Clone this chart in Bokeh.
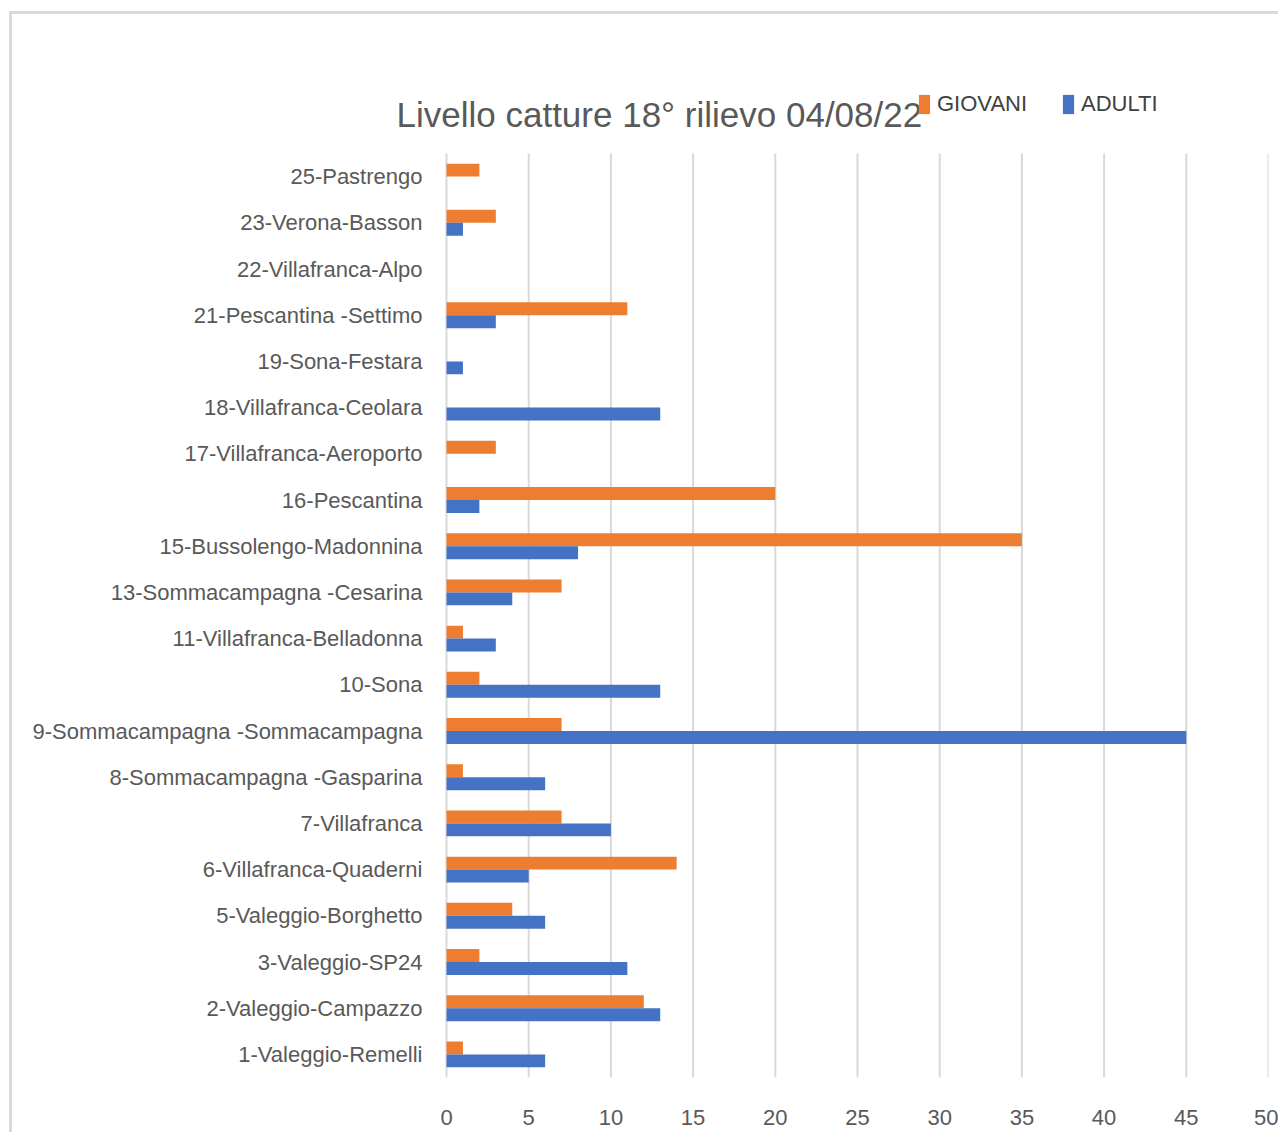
from bokeh.plotting import figure
from bokeh.models import Range1d, FixedTicker, Label, Legend, LegendItem, ColumnDataSource
from bokeh.transform import dodge
from bokeh.embed import file_html
from bokeh.resources import INLINE

# Data (top to bottom as in the reference)
categories = [
    "25-Pastrengo", "23-Verona-Basson", "22-Villafranca-Alpo", "21-Pescantina -Settimo",
    "19-Sona-Festara", "18-Villafranca-Ceolara", "17-Villafranca-Aeroporto", "16-Pescantina",
    "15-Bussolengo-Madonnina", "13-Sommacampagna -Cesarina", "11-Villafranca-Belladonna",
    "10-Sona", "9-Sommacampagna -Sommacampagna", "8-Sommacampagna -Gasparina",
    "7-Villafranca", "6-Villafranca-Quaderni", "5-Valeggio-Borghetto", "3-Valeggio-SP24",
    "2-Valeggio-Campazzo", "1-Valeggio-Remelli",
]
giovani = [2, 3, 0, 11, 0, 0, 3, 20, 35, 7, 1, 2, 7, 1, 7, 14, 4, 2, 12, 1]
adulti = [0, 1, 0, 3, 1, 13, 0, 2, 8, 4, 3, 13, 45, 6, 10, 5, 6, 11, 13, 6]
x_ticks = [0, 5, 10, 15, 20, 25, 30, 35, 40, 45, 50]
title_text = "Livello catture 18° rilievo 04/08/22"

FONT = "Liberation Sans"
n = len(categories)
pos = [n - 1 - i for i in range(n)]  # top category gets the highest position

src = ColumnDataSource(dict(pos=pos, cat=categories, giovani=giovani, adulti=adulti))

PX = 822 / 50.0          # pixels per x unit
EXTRA_LEFT = 66          # frame starts this many px left of the zero line
p = figure(
    x_range=Range1d(-EXTRA_LEFT / PX, 50),
    y_range=Range1d(-0.5, -0.5 + 1057 / 46.2),
    frame_width=822 + EXTRA_LEFT, frame_height=1057,
    min_border_left=434 - EXTRA_LEFT, min_border_top=6, min_border_right=10, min_border_bottom=55,
    output_backend="svg", toolbar_location=None,
    styles={"border-left": "3px solid #d9d9d9", "border-top": "3px solid #d9d9d9",
            "margin-left": "9px", "margin-top": "11px"},
)
p.outline_line_color = None
p.xgrid.grid_line_color = None
p.ygrid.grid_line_color = None

# vertical gridlines limited to the category band
p.segment(x0=x_ticks, x1=x_ticks, y0=[-0.5] * len(x_ticks), y1=[n - 0.5] * len(x_ticks),
          line_color="#d9d9d9", line_width=2)

r_g = p.hbar(y=dodge("pos", 0.14), right="giovani", left=0, height=0.28,
             source=src, fill_color="#ED7D31", line_color=None)
r_a = p.hbar(y=dodge("pos", -0.14), right="adulti", left=0, height=0.28,
             source=src, fill_color="#4472C4", line_color=None)

p.xaxis.ticker = FixedTicker(ticks=x_ticks)
p.yaxis.ticker = FixedTicker(ticks=pos)
p.yaxis.major_label_overrides = {pp: c for pp, c in zip(pos, categories)}

for ax in (p.xaxis[0], p.yaxis[0]):
    ax.axis_line_color = None
    ax.major_tick_line_color = None
    ax.minor_tick_line_color = None
    ax.major_tick_out = 0
    ax.major_tick_in = 0
    ax.minor_tick_out = 0
    ax.major_label_text_color = "#595959"
    ax.major_label_text_font = FONT

p.yaxis.major_label_text_font_size = "22px"
p.yaxis.major_label_standoff = 24 - EXTRA_LEFT
p.xaxis.major_label_text_font_size = "22px"
p.xaxis.major_label_standoff = 32

title = Label(x=-50 / PX, y=20.34, text=title_text, text_font=FONT, text_font_size="35px",
              text_color="#595959", text_baseline="alphabetic", text_align="left")
p.add_layout(title)

legend = Legend(items=[LegendItem(label="GIOVANI", renderers=[r_g]),
                       LegendItem(label="ADULTI", renderers=[r_a])],
                location=(475 + EXTRA_LEFT - 4, 960), orientation="horizontal",
                padding=0, margin=0, spacing=34, label_standoff=6,
                glyph_width=14, glyph_height=24,
                label_text_font=FONT, label_text_font_size="22px",
                label_text_color="#404040", border_line_color=None,
                background_fill_alpha=0)
p.add_layout(legend, "center")

open("out.html", "w").write(file_html(p, INLINE))
